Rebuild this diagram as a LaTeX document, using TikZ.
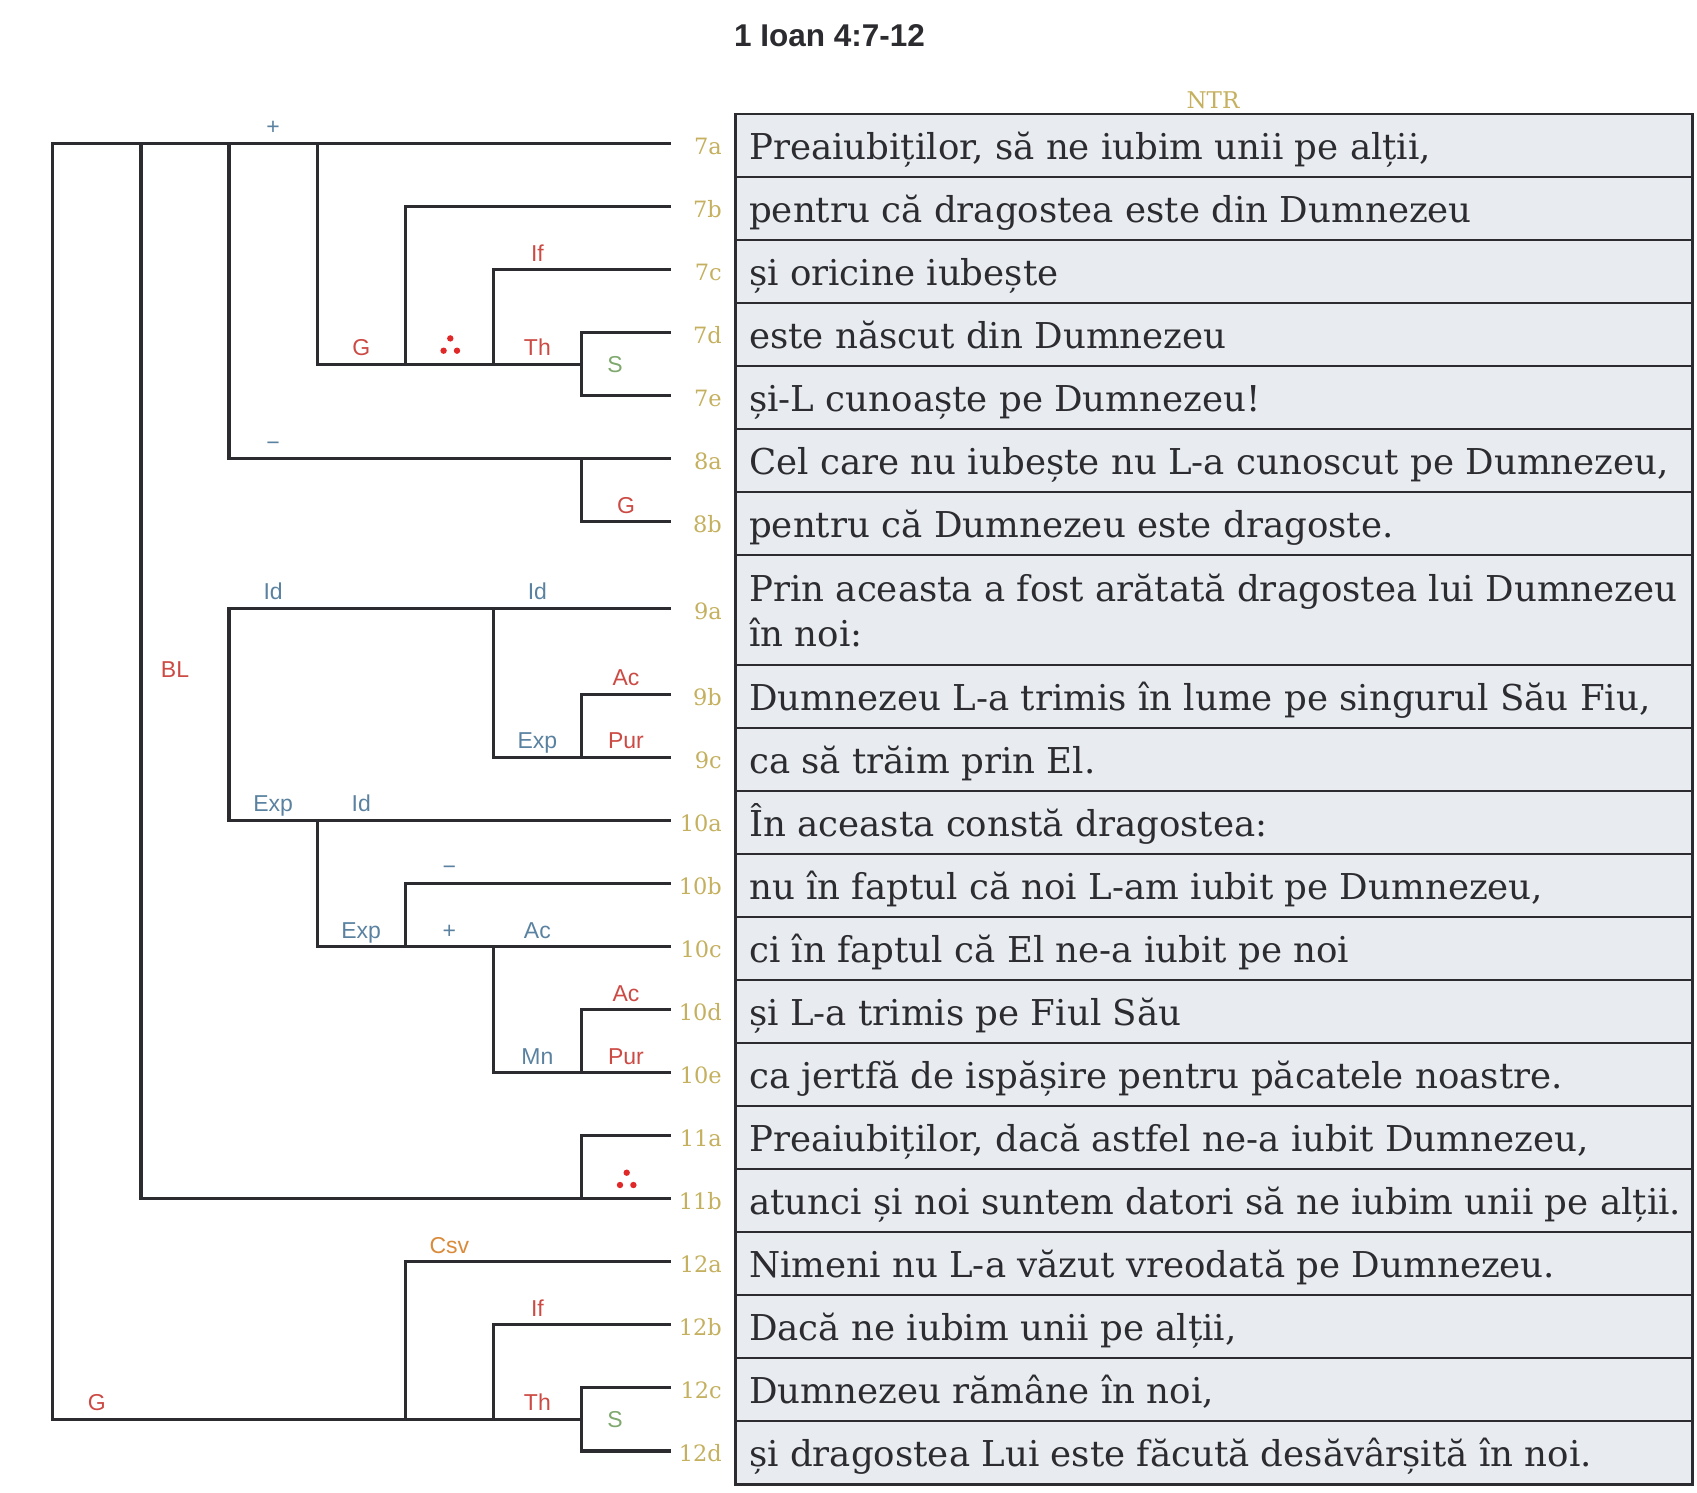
\documentclass[tikz,border=0pt]{standalone}
\usepackage{fontspec}
\setmainfont{DejaVu Serif}
\newfontfamily\labfont{Liberation Sans}
\definecolor{ink}{HTML}{2C2C30}
\definecolor{cellfill}{HTML}{E8ECF0}
\definecolor{gold}{HTML}{C4B05E}
\definecolor{relred}{HTML}{CC4A44}
\definecolor{relblue}{HTML}{5A82A0}
\definecolor{relgreen}{HTML}{7FA86E}
\definecolor{relorange}{HTML}{D98A3A}
\definecolor{dotred}{HTML}{E02828}
\tikzset{
  tree/.style={draw=ink, line width=3.3pt, line join=miter},
  cell/.style={draw=ink, fill=cellfill, line width=2.2pt, minimum width=957pt, inner sep=0pt, outer sep=0pt},
  vtext/.style={anchor=base west, inner sep=0pt, text=ink, font=\fontsize{35.6}{42}\selectfont},
  num/.style={anchor=base east, inner sep=0pt, text=gold, font=\fontsize{22.5}{26}\selectfont},
  rel/.style={anchor=base, inner sep=0pt, font=\labfont\fontsize{23}{26}\selectfont},
  red/.style={text=relred}, blue/.style={text=relblue},
  green/.style={text=relgreen}, orange/.style={text=relorange},
  tdot/.style={fill=dotred, draw=none}
}
\begin{document}
\begin{tikzpicture}[x=1pt,y=-1pt]
\useasboundingbox (0,0) rectangle (1697,1493);
% title
\node[anchor=base west, inner sep=0pt, text=ink, font=\labfont\bfseries\fontsize{31.5}{36}\selectfont] (title) at (734,46.7) {1 Ioan 4:7-12};
\node[anchor=center, inner sep=0pt, text=gold, font=\fontsize{23}{26}\selectfont] (ntr) at (1213,100) {NTR};
% columns
\coordinate (k0) at (52.8,0);
\coordinate (k1) at (140.9,0);
\coordinate (k2) at (229.1,0);
\coordinate (k3) at (317.2,0);
\coordinate (k4) at (405.3,0);
\coordinate (k5) at (493.4,0);
\coordinate (k6) at (581.5,0);
% line ends
\coordinate (e7a) at (670.5,143.5);
\coordinate (e7b) at (670.5,206.6);
\coordinate (e7c) at (670.5,269.6);
\coordinate (e7d) at (670.5,332.7);
\coordinate (e7e) at (670.5,395.7);
\coordinate (e8a) at (670.5,458.8);
\coordinate (e8b) at (670.5,521.8);
\coordinate (e9a) at (670.5,608.3);
\coordinate (e9b) at (670.5,694.3);
\coordinate (e9c) at (670.5,757.3);
\coordinate (e10a) at (670.5,820.4);
\coordinate (e10b) at (670.5,883.4);
\coordinate (e10c) at (670.5,946.5);
\coordinate (e10d) at (670.5,1009.5);
\coordinate (e10e) at (670.5,1072.6);
\coordinate (e11a) at (670.5,1135.6);
\coordinate (e11b) at (670.5,1198.7);
\coordinate (e12a) at (670.5,1261.7);
\coordinate (e12b) at (670.5,1324.8);
\coordinate (e12c) at (670.5,1387.8);
\coordinate (e12d) at (670.5,1450.9);
\coordinate (j7) at (670.5,364.2);
\coordinate (j12) at (670.5,1419.35);
% table cells
\foreach \nm/\yc/\hh in {7a/145.5/63.05, 7b/208.6/63.05, 7c/271.6/63.05, 7d/334.7/63.05, 7e/397.7/63.05,
  8a/460.8/63.05, 8b/523.8/63.05, 9a/610.05/109.4, 9b/696.3/63.05, 9c/759.3/63.05,
  10a/822.4/63.05, 10b/885.4/63.05, 10c/948.5/63.05, 10d/1011.5/63.05, 10e/1074.6/63.05,
  11a/1137.6/63.05, 11b/1200.7/63.05, 12a/1263.7/63.05, 12b/1326.8/63.05, 12c/1389.8/63.05, 12d/1452.9/63.05}
  {\node[cell, minimum height=\hh pt] (cell\nm) at (1214,\yc) {};}
% verse texts
\node[vtext] (t7a) at (749,159.5) {Preaiubiților, să ne iubim unii pe alții,};
\node[vtext] (t7b) at (749,222.6) {pentru că dragostea este din Dumnezeu};
\node[vtext] (t7c) at (749,285.6) {și oricine iubește};
\node[vtext] (t7d) at (749,348.7) {este născut din Dumnezeu};
\node[vtext] (t7e) at (749,411.7) {și-L cunoaște pe Dumnezeu!};
\node[vtext] (t8a) at (749,474.8) {Cel care nu iubește nu L-a cunoscut pe Dumnezeu,};
\node[vtext] (t8b) at (749,537.8) {pentru că Dumnezeu este dragoste.};
\node[vtext] (t9a) at (749,601.7) {Prin aceasta a fost arătată dragostea lui Dumnezeu};
\node[vtext] (t9a2) at (749,646.7) {în noi:};
\node[vtext] (t9b) at (749,710.3) {Dumnezeu L-a trimis în lume pe singurul Său Fiu,};
\node[vtext] (t9c) at (749,773.3) {ca să trăim prin El.};
\node[vtext] (t10a) at (749,836.4) {În aceasta constă dragostea:};
\node[vtext] (t10b) at (749,899.4) {nu în faptul că noi L-am iubit pe Dumnezeu,};
\node[vtext] (t10c) at (749,962.5) {ci în faptul că El ne-a iubit pe noi};
\node[vtext] (t10d) at (749,1025.5) {și L-a trimis pe Fiul Său};
\node[vtext] (t10e) at (749,1088.6) {ca jertfă de ispășire pentru păcatele noastre.};
\node[vtext] (t11a) at (749,1151.6) {Preaiubiților, dacă astfel ne-a iubit Dumnezeu,};
\node[vtext] (t11b) at (749,1214.7) {atunci și noi suntem datori să ne iubim unii pe alții.};
\node[vtext] (t12a) at (749,1277.7) {Nimeni nu L-a văzut vreodată pe Dumnezeu.};
\node[vtext] (t12b) at (749,1340.8) {Dacă ne iubim unii pe alții,};
\node[vtext] (t12c) at (749,1403.8) {Dumnezeu rămâne în noi,};
\node[vtext] (t12d) at (749,1466.9) {și dragostea Lui este făcută desăvârșită în noi.};
% line numbers
\foreach \nm in {7a,7b,7c,7d,7e,8a,8b,9a,9b,9c,10a,10b,10c,10d,10e,11a,11b,12a,12b,12c,12d}
  {\node[num] (n\nm) at ([xshift=51.5pt, yshift=-11pt]e\nm) {\nm};}
% tree lines
\draw[tree] (e7a) -- (e7a -| k0) -- (j12 -| k0) -- (j12 -| k6);
\draw[tree] (e12c) -- (e12c -| k6) -- (e12d -| k6) -- (e12d);
\draw[tree] (e12a) -- (e12a -| k4) -- (j12 -| k4);
\draw[tree] (e12b) -- (e12b -| k5) -- (j12 -| k5);
\draw[tree] (e7a -| k1) -- (e11b -| k1) -- (e11b);
\draw[tree] (e11a) -- (e11a -| k6) -- (e11b -| k6);
\draw[tree] (e7a -| k2) -- (e8a -| k2) -- (e8a);
\draw[tree] (e8a -| k6) -- (e8b -| k6) -- (e8b);
\draw[tree] (e7a -| k3) -- (j7 -| k3) -- (j7 -| k6);
\draw[tree] (e7b) -- (e7b -| k4) -- (j7 -| k4);
\draw[tree] (e7c) -- (e7c -| k5) -- (j7 -| k5);
\draw[tree] (e7d) -- (e7d -| k6) -- (e7e -| k6) -- (e7e);
\draw[tree] (e9a) -- (e9a -| k2) -- (e10a -| k2) -- (e10a);
\draw[tree] (e9a -| k5) -- (e9c -| k5) -- (e9c);
\draw[tree] (e9b) -- (e9b -| k6) -- (e9c -| k6);
\draw[tree] (e10a -| k3) -- (e10c -| k3) -- (e10c);
\draw[tree] (e10b) -- (e10b -| k4) -- (e10c -| k4);
\draw[tree] (e10c -| k5) -- (e10e -| k5) -- (e10e);
\draw[tree] (e10d) -- (e10d -| k6) -- (e10e -| k6);
% relation labels
\node[rel, blue] (r1) at (273.1,135) {+};
\node[rel, red] (r2) at (361.2,355.7) {G};
\node[rel, red] (r3) at (537.4,355.7) {Th};
\node[rel, red] (r4) at (537.4,261.1) {If};
\node[rel, green, anchor=center] (r5) at (615,364.2) {S};
\node[rel, blue] (r6) at (273.1,450.3) {−};
\node[rel, red] (r7) at (626,513.3) {G};
\node[rel, red, anchor=center] (r8) at (175,670) {BL};
\node[rel, blue] (r9) at (273.1,599.8) {Id};
\node[rel, blue] (r10) at (537.4,599.8) {Id};
\node[rel, red] (r11) at (626,685.8) {Ac};
\node[rel, blue] (r12) at (537.4,748.8) {Exp};
\node[rel, red] (r13) at (626,748.8) {Pur};
\node[rel, blue] (r14) at (273.1,811.9) {Exp};
\node[rel, blue] (r15) at (361.2,811.9) {Id};
\node[rel, blue] (r16) at (449.3,874.9) {−};
\node[rel, blue] (r17) at (361.2,938) {Exp};
\node[rel, blue] (r18) at (449.3,938) {+};
\node[rel, blue] (r19) at (537.4,938) {Ac};
\node[rel, red] (r20) at (626,1001) {Ac};
\node[rel, blue] (r21) at (537.4,1064.1) {Mn};
\node[rel, red] (r22) at (626,1064.1) {Pur};
\node[rel, orange] (r23) at (449.3,1253.2) {Csv};
\node[rel, red] (r24) at (537.4,1316.3) {If};
\node[rel, red] (r25) at (96.9,1410.85) {G};
\node[rel, red] (r26) at (537.4,1410.85) {Th};
\node[rel, green, anchor=center] (r27) at (615,1419.35) {S};
% therefore dots
\fill[tdot] (450.3,338.4) circle (3.2pt) (443.6,350.7) circle (3.2pt) (457,350.7) circle (3.2pt);
\fill[tdot] (626.7,1172.7) circle (3.2pt) (620,1185) circle (3.2pt) (633.4,1185) circle (3.2pt);
\end{tikzpicture}
\end{document}
